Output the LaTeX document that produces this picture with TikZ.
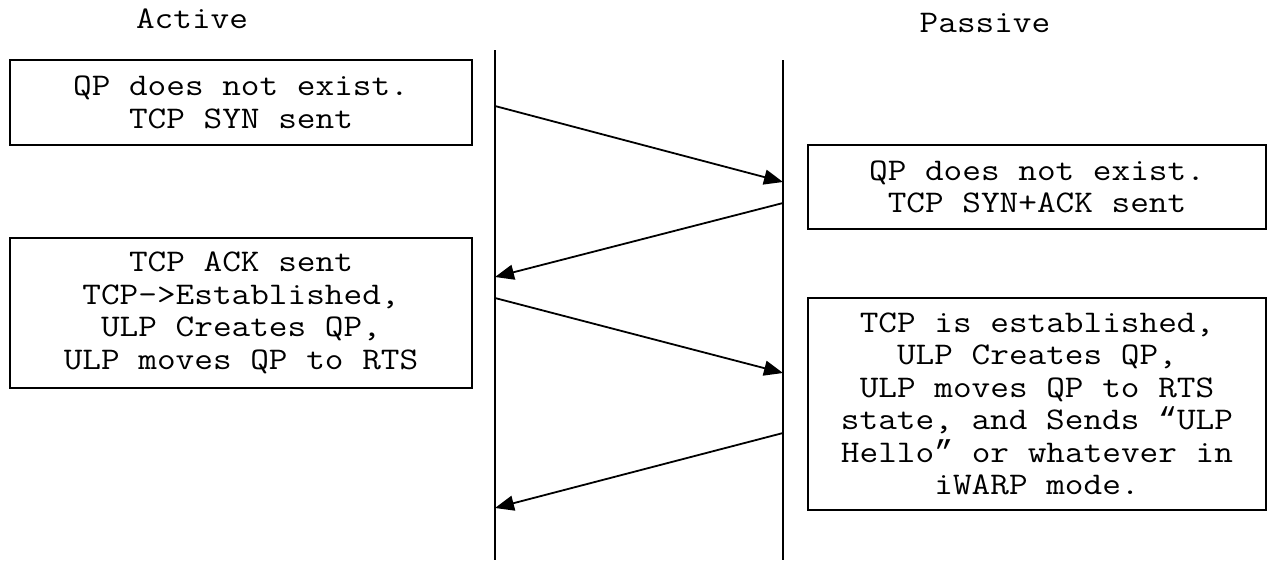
\documentclass[tikz,border=0pt]{standalone}
\usepackage{fontspec}
\newfontfamily\monofont{Latin Modern Mono}[FakeStretch=1.15]
\newfontfamily\quotefont{Liberation Mono}
\newcommand{\openq}{{\quotefont “}}
\newcommand{\closeq}{{\quotefont ”}}
\usetikzlibrary{arrows.meta}
\tikzset{
  state/.style={draw=black, line width=1.6pt, align=center, inner sep=0pt,
    font=\monofont\fontsize{31.5}{32.5}\selectfont},
  lifeline/.style={line width=2pt},
  msg/.style={line width=1.8pt, -{Triangle[length=19pt, width=15pt]}},
  actor/.style={font=\monofont\fontsize{31.5}{32.5}\selectfont, inner sep=0pt, anchor=base}
}
\begin{document}
\begin{tikzpicture}[x=1pt, y=-1pt]
  \useasboundingbox (0,0) rectangle (1272,560);

  % column titles
  \node[actor] (active) at (192,28) {Active};
  \node[actor] (passive) at (985,32) {Passive};

  % lifelines
  \coordinate (la-top) at (495,50);
  \coordinate (la-bot) at (495,560);
  \coordinate (lp-top) at (783,60);
  \coordinate (lp-bot) at (783,560);
  \draw[lifeline] (la-top) -- (la-bot);
  \draw[lifeline] (lp-top) -- (lp-bot);

  % state boxes
  \node[state, minimum width=462pt, minimum height=85pt] (a1) at (241,102.5)
    {QP does not exist.\\TCP SYN sent};
  \node[state, minimum width=458pt, minimum height=84pt] (p1) at (1037,187)
    {QP does not exist.\\TCP SYN+ACK sent};
  \node[state, minimum width=462pt, minimum height=150pt] (a2) at (241,313)
    {TCP ACK sent\\TCP->Established,\\ULP Creates QP,\\ULP moves QP to RTS};
  \node[state, minimum width=458pt, minimum height=212pt] (p2) at (1037,404)
    {TCP is established,\\ULP Creates QP,\\ULP moves QP to RTS\\state, and Sends \openq ULP\\Hello\closeq{} or whatever in\\iWARP mode.};

  % message endpoints on the lifelines
  \coordinate (m1s) at (495,106);
  \coordinate (m1e) at (783,182);
  \coordinate (m2s) at (783,203);
  \coordinate (m2e) at (495,277);
  \coordinate (m3s) at (495,298);
  \coordinate (m3e) at (783,373);
  \coordinate (m4s) at (783,433);
  \coordinate (m4e) at (495,508);

  % messages
  \draw[msg] (m1s) -- (m1e);
  \draw[msg] (m2s) -- (m2e);
  \draw[msg] (m3s) -- (m3e);
  \draw[msg] (m4s) -- (m4e);
\end{tikzpicture}
\end{document}
